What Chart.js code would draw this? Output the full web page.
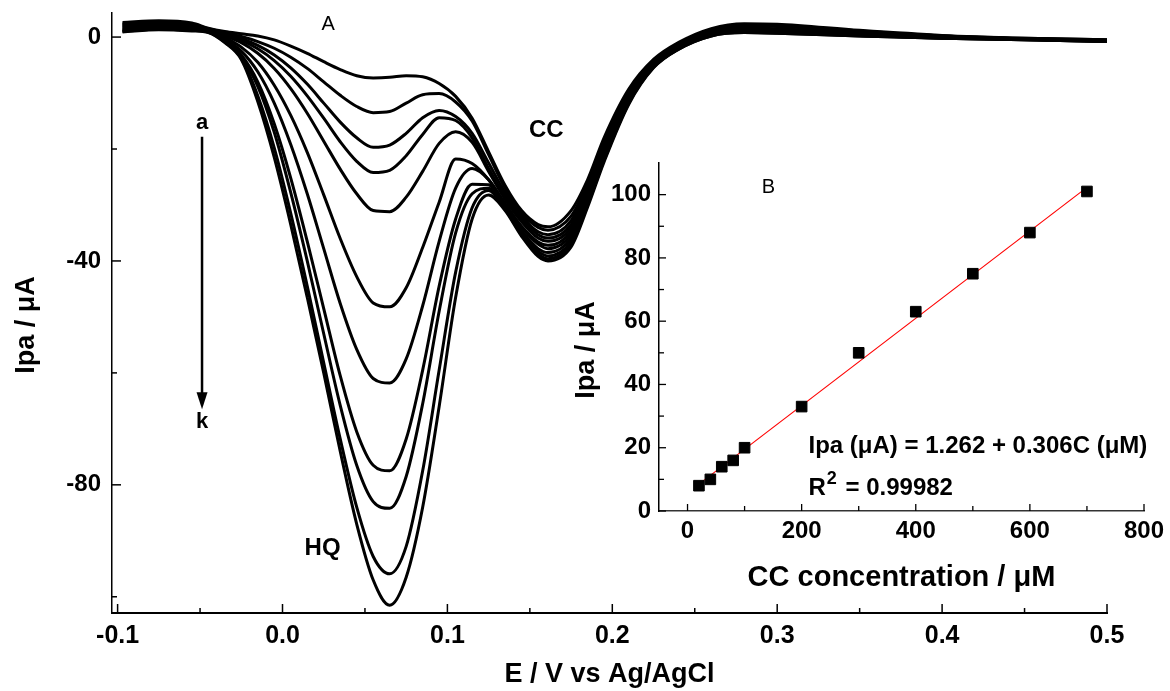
<!DOCTYPE html>
<html>
<head>
<meta charset="utf-8">
<script src="https://cdn.jsdelivr.net/npm/chart.js@4.4.0/dist/chart.umd.min.js"></script>
<style>
  body { margin: 0; background: #fff; }
  #wrap { position: relative; width: 1170px; height: 691px; }
  #main { position: absolute; left: 0; top: 0; }
  #inset { position: absolute; left: 560px; top: 150px; }
</style>
</head>
<body>
<div id="wrap">
  <canvas id="main" width="1170" height="691"></canvas>
  <canvas id="inset" width="610" height="450"></canvas>
</div>
<script>
// potential (V vs Ag/AgCl)
var E = [-0.097, -0.075, -0.055, -0.045, -0.035, -0.025, -0.015, -0.005, 0.005, 0.015,
         0.025, 0.035, 0.045, 0.055, 0.065, 0.075, 0.085, 0.095, 0.105, 0.115,
         0.125, 0.135, 0.145, 0.155, 0.161, 0.175, 0.185, 0.195, 0.21, 0.225,
         0.24, 0.26, 0.28, 0.3, 0.35, 0.4, 0.45, 0.5];

// current (uA), curves a..k
var curveA = [2.6, 2.9, 2.5, 1.6, 1.0, 0.6, 0.2, -0.5, -1.6, -2.9, -4.4, -5.8, -6.9, -7.3, -7.2, -6.9, -7.1, -8.3, -10.6, -14.5, -20.5, -26.5, -31.0, -33.5, -33.9, -31.0, -25.5, -18.0, -9.3, -4.0, -1.0, 1.5, 2.4, 2.3, 1.2, 0.3, -0.2, -0.5];
var curveB = [2.4, 2.7, 2.3, 1.5, 0.8, 0.1, -0.8, -2.0, -3.6, -5.6, -8.0, -10.4, -12.4, -13.5, -13.3, -11.8, -10.3, -10.1, -11.6, -15.0, -21.0, -27.0, -31.5, -34.0, -34.5, -32.0, -26.2, -18.6, -9.6, -4.2, -1.2, 1.3, 2.2, 2.1, 1.1, 0.2, -0.2, -0.5];
var curveC = [2.2, 2.5, 2.1, 1.4, 0.6, -0.3, -1.5, -3.2, -5.5, -8.4, -11.8, -15.2, -18.0, -19.7, -19.3, -17.2, -14.4, -13.1, -14.2, -17.2, -22.5, -27.8, -32.0, -34.8, -35.3, -32.8, -26.6, -19.1, -9.9, -4.3, -1.3, 1.2, 2.0, 1.9, 1.0, 0.2, -0.3, -0.6];
var curveD = [2.0, 2.3, 2.0, 1.3, 0.4, -0.6, -2.1, -4.2, -7.0, -10.5, -14.5, -18.7, -22.2, -24.2, -23.8, -21.2, -17.4, -14.4, -14.9, -18.0, -23.5, -28.5, -32.5, -35.3, -35.9, -33.5, -27.1, -19.6, -10.2, -4.5, -1.5, 1.0, 1.6, 1.5, 0.8, 0.1, -0.3, -0.6];
var curveE = [1.8, 2.1, 1.8, 1.2, 0.2, -1.0, -2.9, -5.6, -9.2, -13.6, -18.6, -23.6, -28.0, -31.0, -31.2, -28.6, -24.0, -19.0, -16.9, -18.8, -24.0, -29.0, -33.0, -35.9, -36.5, -34.1, -27.6, -20.1, -10.6, -4.7, -1.6, 0.8, 1.4, 1.3, 0.6, 0.0, -0.3, -0.6];
var curveF = [1.6, 1.9, 1.7, 1.1, -0.1, -1.8, -4.5, -8.6, -14.0, -20.6, -28.2, -36.0, -42.8, -47.5, -48.2, -44.8, -37.6, -29.5, -21.8, -22.6, -25.5, -29.8, -33.8, -36.6, -37.2, -34.7, -28.2, -20.6, -10.9, -4.9, -1.8, 0.6, 1.2, 1.1, 0.5, 0.0, -0.4, -0.7];
var curveG = [1.4, 1.7, 1.5, 1.0, -0.4, -2.5, -6.2, -11.8, -19.2, -28.0, -37.8, -47.6, -55.8, -61.0, -61.8, -57.5, -48.0, -36.5, -27.0, -23.5, -25.5, -29.8, -34.0, -37.0, -37.8, -35.3, -28.7, -21.0, -11.2, -5.0, -1.9, 0.5, 1.1, 1.0, 0.4, -0.1, -0.4, -0.7];
var curveH = [1.2, 1.6, 1.4, 1.0, -0.6, -3.2, -8.0, -15.5, -25.2, -36.5, -48.5, -60.5, -70.5, -76.5, -77.5, -71.8, -59.5, -44.5, -32.5, -26.3, -26.4, -30.3, -34.6, -37.8, -38.5, -35.9, -29.2, -21.4, -11.4, -5.2, -2.0, 0.4, 1.0, 0.9, 0.3, -0.1, -0.4, -0.7];
var curveI = [1.1, 1.5, 1.3, 0.9, -0.7, -3.5, -8.8, -17.0, -27.8, -40.0, -53.0, -65.8, -76.5, -83.0, -84.2, -78.5, -65.5, -49.0, -35.0, -28.0, -27.0, -30.6, -35.0, -38.3, -39.1, -36.5, -29.6, -21.7, -11.6, -5.3, -2.1, 0.3, 0.9, 0.8, 0.3, -0.2, -0.5, -0.8];
var curveJ = [1.0, 1.4, 1.2, 0.9, -0.9, -3.8, -10.5, -19.8, -31.5, -44.5, -58.2, -71.8, -84.0, -92.8, -95.9, -91.0, -77.5, -59.5, -42.0, -30.5, -27.4, -30.8, -35.3, -38.8, -39.6, -37.0, -30.0, -22.0, -11.8, -5.4, -2.2, 0.2, 0.8, 0.7, 0.2, -0.2, -0.5, -0.8];
var curveK = [0.9, 1.3, 1.1, 0.8, -1.0, -4.0, -11.5, -21.5, -33.5, -46.5, -60.0, -74.0, -87.0, -97.0, -101.5, -96.5, -84.0, -66.0, -46.5, -32.5, -28.2, -31.0, -35.6, -39.2, -40.0, -37.5, -30.4, -22.3, -12.0, -5.5, -2.2, 0.2, 0.8, 0.7, 0.2, -0.2, -0.5, -0.8];
var curves = [curveA, curveB, curveC, curveD, curveE, curveF, curveG, curveH, curveI, curveJ, curveK];
var curveNames = ['a', 'b', 'c', 'd', 'e', 'f', 'g', 'h', 'i', 'j', 'k'];

var xTicksMain = [-0.1, 0.0, 0.1, 0.2, 0.3, 0.4, 0.5];
var xMinorMain = [-0.05, 0.05, 0.15, 0.25, 0.35, 0.45];
var yTicksMain = [0, -40, -80];
var yMinorMain = [-20, -60, -100];

// inset B: calibration
var concCC = [20, 40, 60, 80, 100, 200, 300, 400, 500, 600, 700];
var ipaCC = [8, 10, 14, 16, 20, 33, 50, 63, 75, 88, 101];
var fitConc = [20, 700];
var fitIpa = [8.5, 102.3];
var xTicksInset = [0, 200, 400, 600, 800];
var xMinorInset = [100, 300, 500, 700];
var yTicksInset = [0, 20, 40, 60, 80, 100];
var yMinorInset = [10, 30, 50, 70, 90];

var FONT = "'Liberation Sans', Arial, sans-serif";
Chart.defaults.font.family = FONT;
Chart.defaults.color = '#000';

function pts(xs, ys) {
  return xs.map(function (x, i) { return { x: x, y: ys[i] }; });
}

// ticks pointing into the plot, majors and minors
var innerTicks = {
  id: 'innerTicks',
  afterDraw: function (chart, args, o) {
    var ctx = chart.ctx, a = chart.chartArea;
    var xs = chart.scales.x, ys = chart.scales.y;
    ctx.save();
    ctx.strokeStyle = '#000';
    ctx.lineWidth = o.width;
    function seg(x1, y1, x2, y2) { ctx.beginPath(); ctx.moveTo(x1, y1); ctx.lineTo(x2, y2); ctx.stroke(); }
    o.xMajor.forEach(function (v) { var p = xs.getPixelForValue(v); seg(p, a.bottom, p, a.bottom - o.major); });
    o.xMinor.forEach(function (v) { var p = xs.getPixelForValue(v); seg(p, a.bottom, p, a.bottom - o.minor); });
    o.yMajor.forEach(function (v) { var p = ys.getPixelForValue(v); seg(a.left, p, a.left + o.major, p); });
    o.yMinor.forEach(function (v) { var p = ys.getPixelForValue(v); seg(a.left, p, a.left + o.minor, p); });
    ctx.restore();
  }
};

// free text, rotated axis titles and the a->k arrow
var notes = {
  id: 'notes',
  afterDraw: function (chart, args, o) {
    var ctx = chart.ctx, xs = chart.scales.x, ys = chart.scales.y;
    ctx.save();
    ctx.fillStyle = '#000';
    ctx.strokeStyle = '#000';
    ctx.textBaseline = 'middle';
    (o.texts || []).forEach(function (t) {
      ctx.font = t.font;
      ctx.textAlign = t.align || 'center';
      var px = xs.getPixelForValue(t.x), py = ys.getPixelForValue(t.y);
      ctx.fillText(t.text, px, py);
      if (t.sup) {
        var w = ctx.measureText(t.text).width;
        ctx.font = t.supFont;
        ctx.fillText(t.sup, px + w + 1, py - 9);
        var w2 = ctx.measureText(t.sup).width;
        ctx.font = t.font;
        ctx.fillText(t.rest, px + w + w2 + 3, py);
      }
    });
    if (o.vtitle) {
      ctx.save();
      ctx.font = o.vtitle.font;
      ctx.textAlign = 'center';
      ctx.translate(o.vtitle.px, o.vtitle.py);
      ctx.rotate(-Math.PI / 2);
      ctx.fillText(o.vtitle.text, 0, 0);
      ctx.restore();
    }
    if (o.arrow) {
      var ar = o.arrow;
      var x0 = xs.getPixelForValue(ar.x), y0 = ys.getPixelForValue(ar.y1), y1 = ys.getPixelForValue(ar.y2);
      ctx.lineWidth = 2.5;
      ctx.beginPath(); ctx.moveTo(x0, y0); ctx.lineTo(x0, y1 - 14); ctx.stroke();
      ctx.beginPath(); ctx.moveTo(x0 - 5.5, y1 - 17); ctx.lineTo(x0 + 5.5, y1 - 17); ctx.lineTo(x0, y1); ctx.closePath(); ctx.fill();
    }
    ctx.restore();
  }
};

function fixedAxis(size, horizontal) {
  return function (scale) {
    if (horizontal) {
      scale.height = size; scale.paddingLeft = 0; scale.paddingRight = 0;
    } else {
      scale.width = size; scale.paddingTop = 0; scale.paddingBottom = 0;
    }
  };
}
function keepTicks(list) {
  return function (scale) { scale.ticks = list.map(function (v) { return { value: v }; }); };
}

new Chart(document.getElementById('main').getContext('2d'), {
  type: 'line',
  data: {
    datasets: curves.map(function (c, i) {
      return {
        label: curveNames[i],
        data: pts(E, c),
        borderColor: '#000',
        borderWidth: 3,
        pointRadius: 0,
        fill: false,
        cubicInterpolationMode: 'monotone'
      };
    })
  },
  options: {
    responsive: false,
    animation: false,
    devicePixelRatio: 1,
    layout: { padding: { top: 13, right: 63, left: 0, bottom: 0 } },
    plugins: {
      legend: { display: false },
      tooltip: { enabled: false },
      innerTicks: { xMajor: xTicksMain, xMinor: xMinorMain, yMajor: yTicksMain, yMinor: yMinorMain, major: 9, minor: 5, width: 1.5 },
      notes: {
        texts: [
          { text: 'A', x: 0.0277, y: 2.2, font: '20px ' + FONT },
          { text: 'a', x: -0.0488, y: -15.4, font: 'bold 22px ' + FONT },
          { text: 'k', x: -0.0488, y: -68.8, font: 'bold 22px ' + FONT },
          { text: 'CC', x: 0.16, y: -16.6, font: 'bold 24px ' + FONT },
          { text: 'HQ', x: 0.0243, y: -91.4, font: 'bold 24px ' + FONT }
        ],
        vtitle: { text: 'Ipa / μA', px: 27, py: 325, font: 'bold 27px ' + FONT },
        arrow: { x: -0.0488, y1: -17.8, y2: -66.5 }
      }
    },
    scales: {
      x: {
        type: 'linear',
        min: -0.1034,
        max: 0.5,
        afterFit: fixedAxis(78, true),
        afterBuildTicks: keepTicks(xTicksMain),
        grid: { display: false, drawTicks: false },
        border: { display: true, color: '#000', width: 2 },
        ticks: {
          padding: 8,
          maxRotation: 0,
          font: { size: 25, weight: 'bold' },
          callback: function (v) { return v.toFixed(1); }
        },
        title: {
          display: true,
          text: 'E / V vs Ag/AgCl',
          font: { size: 27, weight: 'bold' },
          padding: { top: 0, bottom: 0 }
        }
      },
      y: {
        min: -102.9,
        max: 4.3,
        afterFit: fixedAxis(112, false),
        afterBuildTicks: keepTicks(yTicksMain),
        grid: { display: false, drawTicks: false },
        border: { display: true, color: '#000', width: 1.5 },
        ticks: { padding: 11, font: { size: 24, weight: 'bold' } }
      }
    }
  },
  plugins: [innerTicks, notes]
});

new Chart(document.getElementById('inset').getContext('2d'), {
  type: 'scatter',
  data: {
    datasets: [
      {
        label: 'Ipa',
        data: pts(concCC, ipaCC),
        backgroundColor: '#000',
        borderColor: '#000',
        pointStyle: 'rect',
        pointRadius: 7.5,
        order: 0
      },
      {
        label: 'fit',
        data: pts(fitConc, fitIpa),
        showLine: true,
        borderColor: '#ff0000',
        borderWidth: 1.2,
        pointRadius: 0,
        order: 1
      }
    ]
  },
  options: {
    responsive: false,
    animation: false,
    devicePixelRatio: 1,
    layout: { padding: { top: 13, right: 26, left: 0, bottom: 0 } },
    plugins: {
      legend: { display: false },
      tooltip: { enabled: false },
      innerTicks: { xMajor: xTicksInset, xMinor: xMinorInset, yMajor: yTicksInset, yMinor: yMinorInset, major: 7, minor: 5, width: 1.3 },
      notes: {
        texts: [
          { text: 'B', x: 141.8, y: 102.2, font: '20px ' + FONT },
          { text: 'Ipa (μA) = 1.262 + 0.306C (μM)', x: 212, y: 20.4, align: 'left', font: 'bold 24px ' + FONT },
          { text: 'R', x: 212, y: 7.2, align: 'left', font: 'bold 24px ' + FONT, sup: '2', supFont: 'bold 18px ' + FONT, rest: ' = 0.99982' }
        ],
        vtitle: { text: 'Ipa / μA', px: 27, py: 200, font: 'bold 27px ' + FONT }
      }
    },
    scales: {
      x: {
        type: 'linear',
        min: -50,
        max: 800,
        afterFit: fixedAxis(450 - 361, true),
        afterBuildTicks: keepTicks(xTicksInset),
        grid: { display: false, drawTicks: false },
        border: { display: true, color: '#333', width: 1.5 },
        ticks: { padding: 6, maxRotation: 0, font: { size: 24, weight: 'bold' } },
        title: {
          display: true,
          text: 'CC concentration / μM',
          font: { size: 29, weight: 'bold' },
          padding: { top: 0, bottom: 5 }
        }
      },
      y: {
        min: 0,
        max: 110,
        afterFit: fixedAxis(99, false),
        afterBuildTicks: keepTicks(yTicksInset),
        grid: { display: false, drawTicks: false },
        border: { display: true, color: '#000', width: 1.5 },
        ticks: { padding: 8, font: { size: 24, weight: 'bold' } }
      }
    }
  },
  plugins: [innerTicks, notes]
});
</script>
</body>
</html>
